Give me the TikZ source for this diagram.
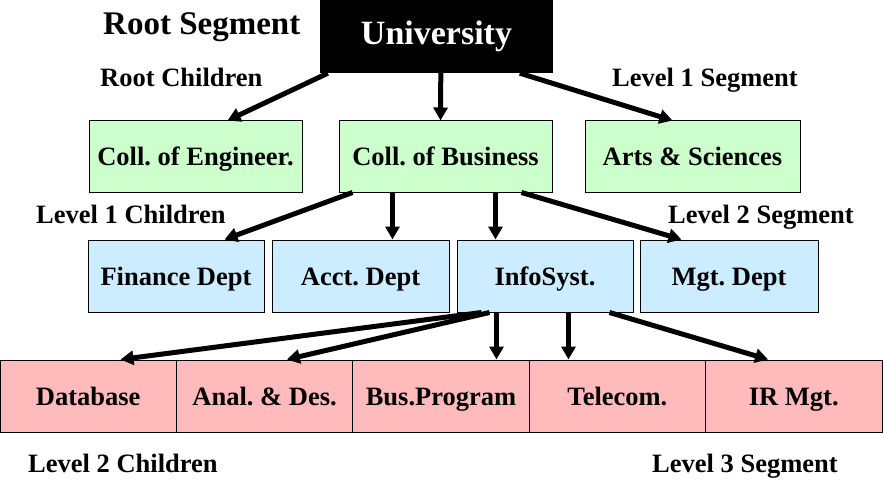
\documentclass[tikz,border=0pt]{standalone}
\usepackage{fontspec}
\setmainfont{Liberation Serif}
\usetikzlibrary{arrows.meta}
\definecolor{grn}{RGB}{204,255,204}
\definecolor{blu}{RGB}{204,236,255}
\definecolor{pnk}{RGB}{255,187,187}
\frenchspacing
\tikzset{
  box/.style={draw=black, line width=1pt, inner sep=0pt, text height=18.5pt, text depth=0pt,
    font=\fontsize{26.5}{30}\selectfont\bfseries},
  greenbox/.style={box, fill=grn, minimum width=213pt, minimum height=71pt},
  bluebox/.style={box, fill=blu, minimum width=177pt, minimum height=72pt},
  pinkbox/.style={box, fill=pnk, minimum width=176.4pt, minimum height=72pt},
  rootbox/.style={fill=black, text=white, inner sep=0pt, minimum width=233pt, minimum height=73pt,
    text height=17pt, text depth=0pt, font=\fontsize{34}{38}\selectfont\bfseries},
  lbl/.style={anchor=base west, inner sep=0pt, font=\fontsize{26.5}{30}\selectfont\bfseries},
  biglbl/.style={anchor=base west, inner sep=0pt, font=\fontsize{33}{37}\selectfont\bfseries},
  arr/.style={line width=5pt, -{Triangle[length=13pt,width=14pt]}}
}
\begin{document}
\begin{tikzpicture}[x=1pt,y=-1pt]
\useasboundingbox (0,0) rectangle (883,484);
% root
\node[rootbox] (univ) at (436.5,36.5) {University};
% level 1
\node[greenbox] (eng) at (195.5,156.5) {Coll. of Engineer.};
\node[greenbox] (bus) at (445.5,156.5) {Coll. of Business};
\node[greenbox, minimum width=215pt] (arts) at (692.5,156.5) {Arts \& Sciences};
% level 2
\node[bluebox, minimum width=176pt] (fin) at (176,276) {Finance Dept};
\node[bluebox] (acct) at (360.5,276) {Acct. Dept};
\node[bluebox, minimum width=176pt] (info) at (545,276) {InfoSyst.};
\node[bluebox, minimum width=178pt] (mgt) at (729,276) {Mgt. Dept};
% level 3
\node[pinkbox] (db) at (88.2,396) {Database};
\node[pinkbox] (anal) at (264.6,396) {Anal. \& Des.};
\node[pinkbox] (busp) at (441,396) {Bus.Program};
\node[pinkbox] (tel) at (617.4,396) {Telecom.};
\node[pinkbox] (ir) at (793.8,396) {IR Mgt.};
% labels
\node[biglbl] (l1) at (103,35) {Root Segment};
\node[lbl] (l2) at (100,87) {Root Children};
\node[lbl] (l3) at (612,87) {Level 1 Segment};
\node[lbl] (l4) at (36,223) {Level 1 Children};
\node[lbl] (l5) at (668,223) {Level 2 Segment};
\node[lbl] (l6) at (28,472) {Level 2 Children};
\node[lbl] (l7) at (652,472) {Level 3 Segment};
% arrows
\draw[arr] ([xshift=8pt]univ.south west) -- ([xshift=139pt]eng.north west);
\draw[arr] ([xshift=121pt]univ.south west) -- ([xshift=102pt]bus.north west);
\draw[arr] ([xshift=200pt]univ.south west) -- ([xshift=88pt]arts.north west);
\draw[arr] ([xshift=14pt]bus.south west) -- ([xshift=137pt]fin.north west);
\draw[arr] ([xshift=54pt]bus.south west) -- ([xshift=121pt]acct.north west);
\draw[arr] ([xshift=157pt]bus.south west) -- ([xshift=39pt]info.north west);
\draw[arr] ([xshift=183pt]bus.south west) -- ([xshift=42pt]mgt.north west);
\draw[arr] ([xshift=25pt]info.south west) -- ([xshift=121pt]db.north west);
\draw[arr] ([xshift=33pt]info.south west) -- ([xshift=111pt]anal.north west);
\draw[arr] ([xshift=40pt]info.south west) -- ([xshift=144.2pt]busp.north west);
\draw[arr] ([xshift=112pt]info.south west) -- ([xshift=39.8pt]tel.north west);
\draw[arr] ([xshift=153pt]info.south west) -- ([xshift=63pt]ir.north west);
\end{tikzpicture}
\end{document}
